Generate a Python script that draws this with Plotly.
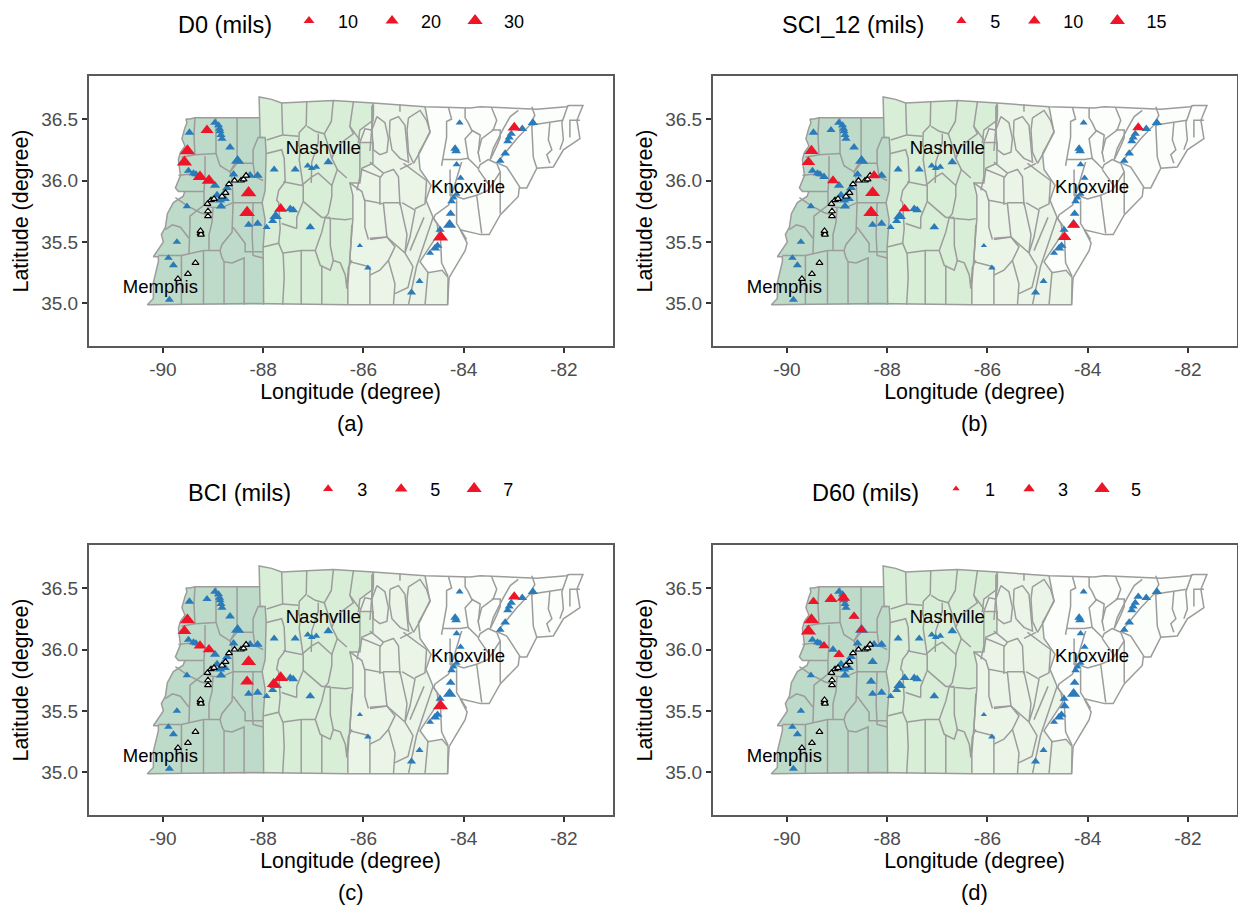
import plotly.graph_objects as go

W, H = 1238, 905

# ---- map geometry (longitude, latitude in degrees) ----
west_border = [(-89.54,36.50),(-89.52,36.47),(-89.56,36.43),(-89.60,36.37),(-89.62,36.34),(-89.56,36.28),(-89.65,36.23),
 (-89.69,36.17),(-89.67,36.11),(-89.65,36.04),(-89.75,35.94),(-89.69,35.91),(-89.56,35.91),(-89.60,35.87),(-89.79,35.82),
 (-89.91,35.73),(-89.95,35.62),(-90.03,35.56),(-89.99,35.50),(-90.15,35.41),(-90.19,35.38),(-90.09,35.38),(-90.09,35.34),
 (-90.19,35.17),(-90.19,35.04),(-90.31,34.99)]
south_border = [(-90.31,34.99),(-88.20,35.00),(-86.30,34.99),(-84.32,34.99)]
se_border = [(-84.32,34.99),(-84.29,35.21),(-83.97,35.43),(-83.93,35.49),(-84.07,35.60),(-83.66,35.56),(-83.49,35.56),
 (-83.27,35.72),(-82.91,35.87),(-82.89,35.94),(-82.74,35.94),(-82.54,36.10),(-82.21,36.11),(-82.01,36.25),(-81.68,36.34),
 (-81.74,36.49),(-81.62,36.61),(-81.90,36.61)]
north_east = [(-81.90,36.61),(-81.95,36.60),(-82.54,36.58),(-83.67,36.60),(-83.87,36.59),(-84.77,36.60)]
north_mid_east = [(-84.77,36.60),(-85.81,36.63)]
north_mid = [(-85.81,36.63),(-86.21,36.64),(-86.60,36.65),(-87.13,36.64),(-87.63,36.63),(-87.83,36.66),(-87.96,36.67),
 (-88.08,36.68),(-88.07,36.51)]
north_west = [(-88.07,36.51),(-89.36,36.51),(-89.46,36.50),(-89.54,36.50)]
zone_12 = [(-88.07,36.51),(-88.06,36.35),(-87.96,36.35),(-87.94,36.23),(-87.96,35.92),(-88.02,35.82),(-87.96,35.68),(-88.00,35.46),(-87.99,34.99)]
zone_23 = [(-85.81,36.63),(-85.81,36.49),(-86.07,36.41),(-86.10,36.31),(-85.81,36.31),(-85.81,36.14),(-86.03,36.10),(-86.07,35.98),
 (-86.27,35.98),(-86.21,35.88),(-86.21,35.69),(-86.27,35.35),(-86.31,35.15),(-86.31,34.99)]
zone_34 = [(-84.77,36.60),(-84.67,36.39),(-84.90,36.22),(-84.87,36.09),(-84.65,35.96),(-84.75,35.84),(-84.61,35.70),(-84.53,35.65),
 (-84.50,35.57),(-84.87,35.34),(-84.71,35.25),(-84.43,35.27),(-84.31,35.21),(-84.32,34.99)]

county_lines = [
 [(-89.36,36.51),(-89.38,36.37),(-89.36,36.21)],
 [(-89.63,36.19),(-89.36,36.21),(-88.94,36.22)],
 [(-88.94,36.51),(-88.94,36.22),(-88.86,36.12),(-88.66,36.07),(-88.62,36.02),(-88.60,35.82)],
 [(-88.52,36.51),(-88.52,36.17),(-88.66,36.07)],
 [(-89.16,36.20),(-89.16,36.04),(-89.18,35.91),(-89.18,35.80),(-89.46,35.71),(-89.46,35.63),(-89.48,35.41)],
 [(-89.69,36.04),(-89.50,36.05),(-89.16,36.02)],
 [(-89.95,35.60),(-89.81,35.64),(-89.65,35.62),(-89.48,35.53)],
 [(-89.44,35.78),(-89.26,35.74),(-89.10,35.72)],
 [(-89.56,35.91),(-89.18,35.91)],
 [(-89.75,35.86),(-89.46,35.78)],
 [(-90.09,35.39),(-89.63,35.39),(-89.19,35.43),(-88.86,35.43),(-88.82,35.48),(-88.62,35.58),(-88.60,35.82)],
 [(-89.63,35.39),(-89.63,34.99)],
 [(-89.19,35.43),(-89.19,34.99)],
 [(-88.86,35.43),(-88.82,35.37),(-88.78,35.34),(-88.78,34.99)],
 [(-88.78,35.34),(-88.62,35.33),(-88.38,35.37),(-88.38,34.99)],
 [(-88.60,35.62),(-88.36,35.49),(-88.36,35.42),(-88.00,35.42)],
 [(-88.60,35.82),(-88.02,35.82)],
 [(-88.20,35.82),(-88.22,35.56),(-88.20,35.39),(-88.00,35.37)],
 [(-88.66,36.07),(-88.52,36.14),(-88.20,36.14),(-88.20,36.25),(-88.10,36.35),(-88.00,36.35)],
 [(-88.20,36.14),(-88.16,36.03),(-88.00,36.00)],
 [(-89.18,35.80),(-89.00,35.78),(-89.02,35.66),(-89.08,35.56),(-89.08,35.43)],
 [(-89.00,35.78),(-88.82,35.78),(-88.60,35.82)],
 [(-87.63,36.63),(-87.61,36.37),(-87.93,36.33)],
 [(-87.13,36.64),(-87.14,36.45),(-87.28,36.39),(-87.29,36.29),(-87.26,36.25),(-87.28,36.17),(-87.20,35.95),(-87.20,35.83),(-87.33,35.70),(-87.33,35.61)],
 [(-86.60,36.65),(-86.64,36.48),(-86.78,36.38),(-86.96,36.40),(-87.12,36.44)],
 [(-87.61,36.37),(-87.30,36.36)],
 [(-86.90,36.38),(-86.90,36.31),(-87.03,36.15),(-87.04,35.98)],
 [(-86.78,36.38),(-86.73,36.32),(-86.63,36.18),(-86.52,36.09),(-86.33,36.02)],
 [(-87.93,36.22),(-87.63,36.25),(-87.58,36.18),(-87.56,35.99),(-87.69,35.92),(-87.73,35.84),(-87.69,35.82),(-87.66,35.61),(-87.69,35.49)],
 [(-87.60,35.99),(-87.23,35.96),(-87.03,36.03),(-86.90,36.06),(-86.63,35.96),(-86.52,36.09)],
 [(-86.20,36.64),(-86.27,36.44),(-86.20,36.38),(-86.53,36.28),(-86.63,36.18)],
 [(-85.83,36.61),(-85.83,36.41),(-85.97,36.42),(-86.07,36.31),(-86.07,36.03),(-86.13,35.92)],
 [(-86.07,36.33),(-86.27,36.44)],
 [(-88.00,35.46),(-87.69,35.49),(-87.60,35.40),(-87.58,35.21),(-87.61,34.99)],
 [(-87.63,35.65),(-87.33,35.61)],
 [(-87.60,35.41),(-87.24,35.43),(-86.96,35.43),(-86.83,35.58),(-86.76,35.70),(-86.63,35.69)],
 [(-87.24,35.43),(-87.24,34.99)],
 [(-86.83,35.31),(-86.83,34.99)],
 [(-86.96,35.43),(-86.86,35.31),(-86.66,35.27),(-86.60,35.35),(-86.46,35.33),(-86.36,35.23),(-86.33,35.12),(-86.30,35.29),(-86.23,35.35)],
 [(-86.66,35.69),(-86.66,35.47),(-86.60,35.35)],
 [(-86.63,35.69),(-86.36,35.68),(-86.23,35.69)],
 [(-86.23,35.64),(-86.27,35.34),(-85.90,35.30)],
 [(-87.20,35.83),(-86.83,35.70),(-86.66,35.70)],
 [(-86.63,35.96),(-86.63,35.87),(-86.70,35.73),(-86.76,35.70)],
 [(-85.87,35.30),(-85.87,34.99)],
 [(-85.80,36.62),(-85.80,36.53),(-85.83,36.43),(-85.87,36.24)],
 [(-85.27,36.62),(-85.27,36.56)],
 [(-85.73,36.52),(-85.57,36.47),(-85.50,36.34),(-85.53,36.23),(-85.67,36.21),(-85.80,36.25),(-85.83,36.41),(-85.73,36.52)],
 [(-85.47,36.49),(-85.30,36.52),(-85.17,36.45),(-85.13,36.29),(-85.10,36.15),(-85.27,36.18),(-85.43,36.25),(-85.48,36.37),(-85.47,36.49)],
 [(-85.10,36.51),(-84.87,36.57),(-84.74,36.49),(-84.67,36.40),(-84.87,36.23),(-85.00,36.14),(-85.10,36.23),(-85.13,36.41),(-85.10,36.51)],
 [(-85.87,36.15),(-85.60,36.06),(-85.67,36.02),(-85.67,35.80)],
 [(-85.60,36.06),(-85.40,36.09),(-85.30,36.03),(-85.27,35.80)],
 [(-85.27,36.09),(-85.03,36.14)],
 [(-86.03,36.09),(-85.67,36.03)],
 [(-86.27,35.98),(-86.03,35.91),(-85.97,35.83),(-85.97,35.62),(-85.90,35.52)],
 [(-85.97,35.84),(-85.60,35.81),(-85.53,35.54),(-85.87,35.53)],
 [(-85.61,35.82),(-85.27,35.82),(-85.13,35.56),(-85.17,35.41),(-85.53,35.54)],
 [(-85.23,35.82),(-84.97,35.76),(-85.07,35.54),(-85.17,35.41)],
 [(-84.97,35.77),(-84.77,35.81),(-84.74,36.00),(-85.20,36.14)],
 [(-85.87,35.52),(-85.53,35.54),(-85.37,35.46),(-85.50,35.35),(-85.37,35.16),(-85.40,34.99)],
 [(-85.87,35.23),(-85.67,35.27),(-85.50,35.35)],
 [(-85.17,35.41),(-85.01,35.30),(-85.11,35.13),(-85.37,35.08)],
 [(-84.61,35.70),(-84.94,35.30),(-85.10,34.99)],
 [(-84.77,34.99),(-84.71,35.26)],
 [(-84.79,35.70),(-85.07,35.43)],
 [(-84.30,36.59),(-84.24,36.50),(-84.34,36.48),(-84.34,36.35),(-84.41,36.19),(-84.44,36.12)],
 [(-83.97,36.59),(-83.97,36.51),(-83.91,36.47),(-83.84,36.41),(-83.67,36.37),(-83.71,36.22)],
 [(-84.41,36.17),(-84.07,36.17),(-83.91,36.18),(-83.71,36.10)],
 [(-83.91,36.18),(-83.97,36.34),(-83.81,36.41)],
 [(-83.44,36.59),(-83.34,36.49),(-83.41,36.41),(-83.64,36.34),(-83.71,36.23),(-83.67,36.15)],
 [(-83.44,36.41),(-83.27,36.41),(-83.27,36.35),(-83.34,36.28),(-83.47,36.17)],
 [(-82.91,36.57),(-83.07,36.52),(-83.21,36.42),(-83.41,36.26),(-83.47,36.17)],
 [(-82.64,36.60),(-82.58,36.53),(-82.68,36.45),(-82.94,36.34),(-83.34,36.14)],
 [(-83.34,36.14),(-83.51,36.17),(-83.67,36.13),(-83.71,36.09)],
 [(-84.04,36.15),(-84.11,36.06),(-84.24,35.88),(-84.30,35.80),(-84.57,35.72),(-84.60,35.69)],
 [(-83.71,36.09),(-83.47,35.95),(-83.51,35.92),(-83.74,35.88),(-84.00,35.85),(-84.21,35.88)],
 [(-83.74,35.88),(-83.64,35.57)],
 [(-84.14,35.84),(-84.14,35.65),(-83.94,35.52)],
 [(-83.27,36.07),(-83.27,35.73)],
 [(-83.31,36.14),(-83.14,36.11),(-82.87,35.94)],
 [(-83.34,36.14),(-83.27,36.07),(-83.51,35.92)],
 [(-82.58,36.47),(-82.64,36.44),(-82.61,36.19),(-82.54,36.10)],
 [(-82.28,36.47),(-82.31,36.33),(-82.24,36.25),(-82.34,36.21),(-82.28,36.14)],
 [(-81.92,36.61),(-82.04,36.47),(-82.01,36.33),(-82.08,36.25)],
 [(-82.68,36.45),(-82.02,36.49)],
 [(-81.88,36.35),(-81.88,36.49),(-81.68,36.49)],
 [(-84.27,36.09),(-84.27,35.88),(-84.21,35.88)],
 [(-84.60,35.69),(-84.47,35.62),(-84.44,35.33),(-84.31,35.22)],
]

# ---- survey sites ----
site_lon = [-89.47,-88.96,-88.89,-88.87,-88.86,-88.84,-88.82,-88.66,-88.51,-88.59,-88.26,-88.11,-89.49,-89.39,-89.34,-88.96,-88.72,-88.92,
 -88.77,-88.86,-88.76,-88.84,-89.52,-89.72,-89.89,-89.79,-89.87,-88.29,-88.11,-87.93,-87.81,-87.75,-87.46,-87.40,-87.06,-87.78,-87.36,
 -87.11,-87.03,-86.94,-86.70,-86.07,-85.91,-84.08,-84.17,-84.15,-84.14,-84.06,-84.14,-84.20,-84.24,-84.26,-84.28,-84.47,-84.52,-84.57,
 -84.67,-84.88,-85.04,-83.27,-83.17,-83.12,-83.09,-83.05,-82.83,-82.62,
 -89.12,-89.51,-89.57,-89.26,-89.08,-88.29,-88.32,-87.65,-84.46,-82.99]
site_lat = [36.39,36.47,36.45,36.42,36.40,36.37,36.34,36.27,36.16,36.05,36.04,36.04,36.08,36.06,36.05,35.96,35.94,35.88,
 35.90,35.84,35.85,35.79,35.79,35.50,35.37,35.31,35.03,35.64,35.65,35.62,35.67,35.71,35.77,35.76,35.62,36.09,36.09,
 36.12,36.10,36.11,36.15,35.47,35.29,36.47,36.26,36.24,36.13,36.02,35.89,35.86,35.83,35.73,35.64,35.60,35.47,35.45,
 35.41,35.18,35.09,36.16,36.22,36.32,36.35,36.38,36.42,36.47,
 36.41,36.24,36.15,36.03,36.00,35.90,35.74,35.77,35.54,36.43]
site_size = [8.5,8.5,8,8,8,8,8,8.5,11.5,8.5,9,9,8,8,8,9,8.5,9,
 8.5,9,8.5,9,7.5,7.5,7.5,8,8,8,8.5,7,8,11,8.5,8.5,8.5,8,8,
 7,7,7,8.5,5.5,6.5,7,8.5,8.5,7,7,7,7,7.5,8.5,11.5,8,8.5,9,
 7,7,8,7.5,8.5,8,8,8,8.5,9,
 8,9,9,8.5,8.5,9,9,8.5,9,8.5]
uncut_lon = [-89.70,-89.50,-89.35,-89.25,-89.24,-89.25,-89.10,-89.10,-89.11,-89.04,-88.98,-88.82,-88.75,-88.68,-88.57,-88.44,-88.39,-88.34]
uncut_lat = [35.20,35.24,35.33,35.57,35.56,35.59,35.75,35.71,35.81,35.84,35.85,35.87,35.90,35.97,36.00,36.00,36.01,36.04]

# ---- highlighted sites per panel ----
d0_lon = [-89.12,-89.51,-89.57,-89.26,-89.08,-88.29,-88.32,-87.65,-84.46,-82.99]
d0_lat = [36.41,36.24,36.15,36.03,36.00,35.90,35.74,35.77,35.54,36.43]
d0_val = [20,30,30,27,27,32,32,20,30,22]
sci_lon = [-89.51,-89.57,-89.08,-88.26,-88.29,-88.32,-87.65,-82.99,-84.28,-84.46]
sci_lat = [36.24,36.15,36.00,36.04,35.90,35.74,35.77,36.43,35.64,35.54]
sci_val = [13,12,9,9,15,16,8,9,9,12]
bci_lon = [-89.51,-89.57,-89.26,-89.08,-88.29,-88.32,-87.65,-87.79,-84.46,-82.99]
bci_lat = [36.24,36.15,36.03,36.00,35.90,35.74,35.77,35.72,35.54,36.43]
bci_val = [7,6,5,5,7,6,7,6,7,5]
d60_lon = [-89.47,-89.12,-88.87,-88.66,-88.51,-89.51,-89.57,-89.26,-88.96]
d60_lat = [36.39,36.41,36.42,36.27,36.16,36.24,36.15,36.03,35.96]
d60_val = [3,4,4,3,3,5,5,3,3]

panel_titles = ["D0 (mils)", "SCI_12 (mils)", "BCI (mils)", "D60 (mils)"]
legend_vals = [[10,20,30],[5,10,15],[3,5,7],[1,3,5]]
panel_tags = ["(a)", "(b)", "(c)", "(d)"]
size_scale = [(7.6,0.19),(6.7,0.43),(5.6,1.08),(4.6,1.75)]
red_sets = [(d0_lon,d0_lat,d0_val),(sci_lon,sci_lat,sci_val),(bci_lon,bci_lat,bci_val),(d60_lon,d60_lat,d60_val)]
city_names = ["Nashville","Knoxville","Memphis"]
city_lon = [-86.80,-83.91,-90.05]
city_lat = [36.25,35.94,35.12]
x_ticks = [-90,-88,-86,-84,-82]
y_ticks = [35.0,35.5,36.0,36.5]

GREY = "#9c9c9c"; BLUE = "#2b7bba"; RED = "#ee1528"
ZONES = ["#fbfefa","#eaf5e8","#d8eed7","#bedbc9"]
FONT = "Liberation Sans"

def xy(pts):
    return [p[0] for p in pts],[p[1] for p in pts]

outline = west_border + south_border[1:] + se_border[1:] + north_east[1:] + north_mid_east[1:] + north_mid[1:] + north_west[1:]
z3 = north_mid_east[::-1] + zone_34[1:] + zone_23[::-1]
z2 = north_mid + zone_12[1:] + zone_23[::-1]
z1 = north_west + west_border[1:] + zone_12[::-1]
zone_polys = [outline, z3, z2, z1]

lines_x, lines_y = [], []
for seg in county_lines + [zone_12, zone_23, zone_34, outline]:
    lx, ly = xy(seg)
    lines_x += lx + [None]
    lines_y += ly + [None]

x_dom = [(88.7/W, 612.5/W), (712.7/W, 1236.5/W)]
y_dom = [(1-346/H, 1-76/H), (1-815/H, 1-545/H)]

fig = go.Figure()
annots = []
for i in range(4):
    suffix = "" if i == 0 else str(i+1)
    ax = "x"+suffix; ay = "y"+suffix
    common = dict(xaxis=ax, yaxis=ay, showlegend=False, hoverinfo="skip")
    for poly, colr in zip(zone_polys, ZONES):
        px_, py_ = xy(poly)
        fig.add_trace(go.Scatter(x=px_, y=py_, mode="lines", fill="toself", fillcolor=colr, line=dict(width=0), **common))
    fig.add_trace(go.Scatter(x=lines_x, y=lines_y, mode="lines", line=dict(color=GREY, width=1.5), **common))
    fig.add_trace(go.Scatter(x=site_lon, y=site_lat, mode="markers", marker=dict(symbol="triangle-up", color=BLUE, opacity=1, size=site_size, line=dict(width=0)), **common))
    fig.add_trace(go.Scatter(x=uncut_lon, y=uncut_lat, mode="markers", marker=dict(symbol="triangle-up", color="white", opacity=1, size=6, line=dict(color="black", width=1.2)), **common))
    rx, ry, rv = red_sets[i]
    a, b = size_scale[i]
    fig.add_trace(go.Scatter(x=rx, y=ry, mode="markers", marker=dict(symbol="triangle-up", color=RED, opacity=1, size=[a+b*v for v in rv], line=dict(width=0)), **common))
    fig.add_trace(go.Scatter(x=city_lon, y=city_lat, mode="text", text=city_names, textposition="middle center",
                             textfont=dict(family=FONT, size=18.5, color="black"), **common))
    leg = "legend" if i == 0 else "legend"+suffix
    for v in legend_vals[i]:
        fig.add_trace(go.Scatter(x=[None], y=[None], mode="markers", name=str(v), legend=leg, xaxis=ax, yaxis=ay,
                                 marker=dict(symbol="triangle-up", color=RED, opacity=1, size=a+b*v, line=dict(width=0))))
    dx = x_dom[i % 2]; dy = y_dom[i // 2]
    axis_common = dict(showgrid=False, zeroline=False, showline=True, mirror=True, linecolor="#5a5a5a", linewidth=1.5,
                       ticks="outside", ticklen=5, tickwidth=1.5, tickcolor="#333333",
                       tickfont=dict(family=FONT, size=19, color="#4d4d4d"))
    fig.layout["xaxis"+suffix] = go.layout.XAxis(domain=dx, range=[-91.48,-81.03], tickvals=x_ticks, ticktext=[str(t) for t in x_ticks],
        title=dict(text="Longitude (degree)", font=dict(family=FONT, size=21.4, color="black"), standoff=5), anchor=ay, **axis_common)
    fig.layout["yaxis"+suffix] = go.layout.YAxis(domain=dy, range=[34.654,36.85], tickvals=y_ticks, tickformat=".1f",
        title=dict(text="Latitude (degree)", font=dict(family=FONT, size=21.4, color="black"), standoff=7), anchor=ax, **axis_common)
    annots.append(dict(text=panel_tags[i], xref="paper", yref="paper", x=(dx[0]+dx[1])/2, y=1-(423 if i < 2 else 892)/H,
                       showarrow=False, font=dict(family=FONT, size=22, color="black"), xanchor="center", yanchor="middle"))

leg_pos = [(176,23),(780,23),(186,491),(810,491)]
layout_legs = {}
for i,(lx,ly) in enumerate(leg_pos):
    key = "legend" if i == 0 else "legend"+str(i+1)
    layout_legs[key] = dict(orientation="h", x=lx/W, y=1-ly/H, xanchor="left", yanchor="middle", bgcolor="rgba(0,0,0,0)",
        title=dict(text=panel_titles[i], side="left", font=dict(family=FONT, size=23.5, color="black")),
        font=dict(family=FONT, size=18, color="black"), itemwidth=48, itemsizing="trace", tracegroupgap=0)

fig.update_layout(width=W, height=H, margin=dict(l=0,r=0,t=0,b=0,autoexpand=False), paper_bgcolor="white", plot_bgcolor="white",
                  annotations=annots, font=dict(family=FONT), **layout_legs)
fig.write_html("out.html", post_script="document.body.style.margin='0';", config={"displayModeBar": False})
